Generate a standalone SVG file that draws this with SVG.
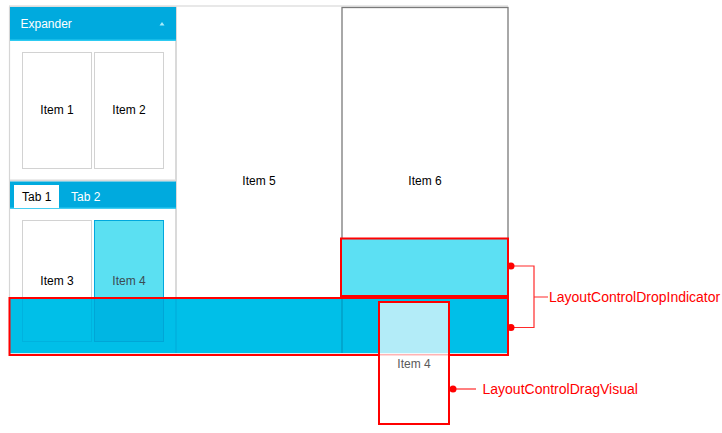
<svg xmlns="http://www.w3.org/2000/svg" width="722" height="433" viewBox="0 0 722 433">
<style>
  .lbl{font-family:"Liberation Sans",Arial,sans-serif;font-size:12px;fill:#000;text-anchor:middle}
  .hdr{fill:#00AADE}
  .hdrline{fill:#2DCBF2}
  .item{fill:#fff;stroke:#D2D2D2;stroke-width:1}
  .red{fill:none;stroke:#FF0000;stroke-width:2}
  .call{font-family:"Liberation Sans",Arial,sans-serif;font-size:14px;fill:#FF0000}
  .cl{stroke:#FF2A2A;stroke-width:1.2;fill:none}
</style>
<rect width="722" height="433" fill="#fff"/>
<rect x="9" y="5" width="499" height="2" fill="#E8E8E8"/>

<g id="left-panel">
  <rect x="9.5" y="7" width="166.5" height="346" fill="#fff" stroke="#D6D6D6" stroke-width="1.2"/>
  <line x1="176" y1="7" x2="176" y2="353" stroke="#D6D6D6" stroke-width="1.5"/>
</g>

<g id="expander">
  <rect class="hdr" x="10" y="7" width="166" height="33"/>
  <rect class="hdrline" x="10" y="39.5" width="166" height="1.5"/>
  <text x="20.5" y="28" font-family="'Liberation Sans',Arial,sans-serif" font-size="12" fill="#fff">Expander</text>
  <polygon points="159.5,25.5 164.5,25.5 162,22" fill="#A8EBFA"/>
  <rect x="10" y="179.5" width="166" height="2" fill="#D9D9D9"/>
</g>

<g id="item1">
  <rect class="item" x="22.5" y="52.5" width="69" height="116"/>
  <text class="lbl" x="57" y="114">Item 1</text>
</g>
<g id="item2">
  <rect class="item" x="94.5" y="52.5" width="69" height="116"/>
  <text class="lbl" x="129" y="114">Item 2</text>
</g>

<g id="tabs">
  <rect class="hdr" x="10" y="181.5" width="166" height="27"/>
  <rect class="hdrline" x="10" y="207.5" width="166" height="1.2"/>
  <rect x="14" y="185" width="45" height="23" fill="#fff"/>
  <text x="22" y="201" font-family="'Liberation Sans',Arial,sans-serif" font-size="12" fill="#000">Tab 1</text>
  <text x="71" y="201" font-family="'Liberation Sans',Arial,sans-serif" font-size="12" fill="#fff">Tab 2</text>
</g>

<g id="item3">
  <rect class="item" x="22.5" y="220.5" width="69" height="121"/>
  <text class="lbl" x="57" y="285">Item 3</text>
</g>
<g id="item4">
  <rect x="94.5" y="220.5" width="69" height="121" fill="#5BE0F2" stroke="#00A8DE" stroke-width="1"/>
  <text class="lbl" x="129" y="285" style="fill:#3C4C52">Item 4</text>
</g>

<g id="item5">
  <text class="lbl" x="259" y="185">Item 5</text>
</g>

<g id="item6">
  <rect x="342" y="7.5" width="166" height="345.5" fill="#fff" stroke="#7A7A7A" stroke-width="1.3"/>
  <text class="lbl" x="425" y="185">Item 6</text>
</g>

<g id="drop-indicator-small">
  <rect x="341" y="238.5" width="167" height="57.5" fill="#5CE0F3"/>
  <rect class="red" x="341" y="238.5" width="167" height="57.5"/>
</g>

<g id="drop-indicator-large">
  <rect x="10" y="298" width="498" height="55" fill="#00BFE8"/>
  <rect x="22.5" y="298" width="69" height="43.5" fill="none" stroke="#00B2DE" stroke-width="1"/>
  <rect x="94.5" y="298" width="69" height="43.5" fill="#00B6E3" stroke="#00A6D6" stroke-width="1"/>
  <line x1="176" y1="298" x2="176" y2="353" stroke="#00B0DE" stroke-width="1.5"/>
  <line x1="342" y1="298" x2="342" y2="353" stroke="#0098BE" stroke-width="1.2"/>
  <line x1="10" y1="353.5" x2="508" y2="353.5" stroke="#CFEAF2" stroke-width="1"/>
  <rect class="red" x="9.5" y="298" width="498.5" height="57"/>
</g>

<g id="drag-visual">
  <rect x="379" y="302" width="70" height="122" fill="#fff" fill-opacity="0.7"/>
  <rect x="379" y="355.5" width="70" height="68.5" fill="#fff"/>
  <text class="lbl" x="414" y="368" style="fill:#5A5A5A">Item 4</text>
  <rect class="red" x="379" y="302" width="70" height="122"/>
</g>

<g id="connectors">
  <path class="cl" d="M511,266 H534 V327.5 H511 M534,297 H548"/>
  <circle cx="511" cy="266" r="3.5" fill="#FF0000"/>
  <circle cx="511" cy="327.5" r="3.5" fill="#FF0000"/>
  <path class="cl" d="M453,389 H476"/>
  <circle cx="453" cy="389" r="3.5" fill="#FF0000"/>
</g>

<g id="callout-drop">
  <text class="call" x="549" y="302">LayoutControlDropIndicator</text>
</g>
<g id="callout-drag">
  <text class="call" x="482.5" y="394">LayoutControlDragVisual</text>
</g>
</svg>
